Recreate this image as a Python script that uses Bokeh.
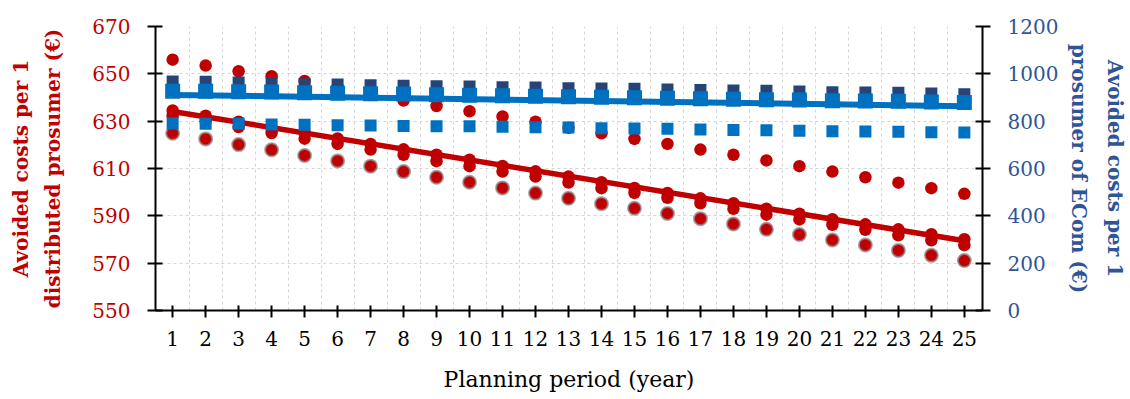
import numpy as np
from bokeh.plotting import figure
from bokeh.models import Range1d, LinearAxis, FixedTicker, ColumnDataSource
from bokeh.embed import file_html
from bokeh.resources import INLINE

# ---------------- data ----------------
years = list(range(1, 26))
year_labels = [str(y) for y in years]

# avoided costs per 1 distributed prosumer (EUR) - left axis
dist_top = [656.0, 653.5, 651.1, 649.0, 647.0, 644.5, 641.5, 638.7, 636.4, 634.2,
            632.0, 629.8, 627.2, 624.9, 622.5, 620.4, 618.0, 615.8, 613.4, 611.0,
            608.7, 606.3, 604.0, 601.7, 599.3]
dist_mid = [634.5, 632.3, 629.8, 627.4, 625.0, 622.7, 620.4, 618.1, 615.8, 613.7,
            611.1, 608.8, 606.6, 604.2, 601.8, 599.7, 597.4, 595.3, 593.0, 590.9,
            588.6, 586.4, 584.3, 582.2, 580.1]
dist_low = [632.2, 630.0, 627.5, 625.0, 622.6, 620.4, 618.0, 615.8, 613.1, 611.0,
            608.7, 606.6, 604.1, 601.7, 599.7, 597.6, 595.3, 593.0, 590.5, 588.5,
            586.2, 584.1, 581.8, 579.7, 577.6]
dist_base = [624.9, 622.5, 620.1, 617.9, 615.5, 613.2, 611.0, 608.7, 606.3, 604.2,
             601.8, 599.6, 597.4, 595.1, 593.2, 591.0, 588.8, 586.6, 584.3, 582.1,
             579.8, 577.7, 575.4, 573.3, 571.1]

# avoided costs per 1 prosumer of ECom (EUR) - right axis
ecom_top = [967.5, 966.2, 963.2, 960.3, 956.1, 954.8, 951.8, 949.3, 947.6, 946.3,
            943.4, 942.1, 939.2, 937.9, 936.6, 933.7, 931.5, 929.4, 928.2, 925.2,
            922.3, 921.0, 919.7, 916.8, 913.8]
ecom_mid = [925.9, 925.9, 924.5, 923.1, 920.3, 917.5, 916.0, 914.6, 911.8, 909.0,
            907.6, 904.8, 903.4, 900.6, 899.2, 896.4, 894.9, 892.1, 890.7, 889.3,
            886.5, 885.1, 883.7, 880.8, 879.4]
ecom_low = [790.0, 788.6, 788.6, 785.8, 784.4, 783.0, 781.5, 780.1, 779.0, 778.0,
            775.9, 774.5, 773.1, 770.3, 768.9, 767.5, 764.6, 762.5, 761.1, 759.0,
            757.6, 756.2, 754.8, 753.4, 752.0]
# linear trend of ECom avoided costs, read at year 1 and year 25
ecom_trend_years = [1, 25]
ecom_trend = [910.8, 863.5]

left_ticks = [550, 570, 590, 610, 630, 650, 670]
right_ticks = [0, 200, 400, 600, 800, 1000, 1200]

# ---------------- figure ----------------
FONT = "DejaVu Serif"
RED = "#C00000"
BLUE = "#0070C0"
NAVY = "#264478"
RTXT = "#2F5597"

p = figure(width=1130, height=399, output_backend="svg", toolbar_location=None,
           x_range=Range1d(0.48, 25.55), y_range=Range1d(550, 670),
           min_border_left=155, min_border_right=148,
           min_border_top=26, min_border_bottom=89)
p.outline_line_color = None
p.background_fill_color = "white"
p.border_fill_color = "white"

p.extra_y_ranges = {"ecom": Range1d(0, 1200)}

# grids
p.xgrid.ticker = FixedTicker(ticks=[y + 0.5 for y in years[:-1]])
p.ygrid.ticker = FixedTicker(ticks=left_ticks)
for g in (p.xgrid, p.ygrid):
    g.grid_line_color = "#d4d4d4"
    g.grid_line_dash = "3 3"
    g.grid_line_width = 1

# data source
src = ColumnDataSource(dict(year=years, dist_top=dist_top, dist_mid=dist_mid,
                            dist_low=dist_low, dist_base=dist_base,
                            ecom_top=ecom_top, ecom_mid=ecom_mid, ecom_low=ecom_low))

# red circles
p.scatter("year", "dist_top", source=src, marker="circle", size=12.5,
          fill_color=RED, line_color=None)
p.scatter("year", "dist_base", source=src, marker="circle", size=13,
          fill_color=RED, line_color="#8a8a8a", line_width=2, line_alpha=0.75)
p.scatter("year", "dist_low", source=src, marker="circle", size=12.5,
          fill_color=RED, line_color=None)
p.scatter("year", "dist_mid", source=src, marker="circle", size=12.5,
          fill_color=RED, line_color=None)

# red linear trend (fitted to dist_mid)
coef = np.polyfit(years, dist_mid, 1)
trend_x = [years[0], years[-1]]
trend_y = [float(np.polyval(coef, x)) for x in trend_x]
p.line(trend_x, trend_y, line_color=RED, line_width=5.5, line_cap="round")

# blue squares
p.scatter("year", "ecom_top", source=src, marker="square", size=12,
          fill_color=NAVY, line_color=None, y_range_name="ecom")
p.scatter("year", "ecom_mid", source=src, marker="square", size=15,
          fill_color=BLUE, line_color=None, y_range_name="ecom")
p.scatter("year", "ecom_low", source=src, marker="square", size=12,
          fill_color=BLUE, line_color=None, y_range_name="ecom")
p.line(ecom_trend_years, ecom_trend, line_color=BLUE, line_width=6,
       y_range_name="ecom", line_cap="round")

# axes
def style_axis(ax, color):
    ax.axis_line_color = "black"
    ax.axis_line_width = 2
    ax.major_tick_line_color = "black"
    ax.major_tick_line_width = 2
    ax.major_tick_in = 7
    ax.major_tick_out = 8
    ax.minor_tick_line_color = None
    ax.major_label_text_font = FONT
    ax.major_label_text_font_size = "20px"
    ax.major_label_text_color = color
    ax.axis_label_text_font = FONT
    ax.axis_label_text_font_style = "bold"
    ax.axis_label_text_font_size = "20px"
    ax.axis_label_text_color = color

xa = p.xaxis[0]
style_axis(xa, "black")
xa.ticker = FixedTicker(ticks=years)
xa.major_label_overrides = {y: lab for y, lab in zip(years, year_labels)}
xa.major_tick_in = 5
xa.major_tick_out = 7
xa.major_label_standoff = 13
xa.axis_label = "Planning period (year)"
xa.axis_label_text_font_style = "normal"
xa.axis_label_text_font_size = "22px"
xa.axis_label_standoff = 18

ya = p.yaxis[0]
style_axis(ya, RED)
ya.ticker = FixedTicker(ticks=left_ticks)
ya.major_label_standoff = 17
ya.axis_label = "Avoided costs per 1\ndistributed prosumer (€)"
ya.axis_label_text_line_height = 1.35
ya.axis_label_standoff = 24

ra = LinearAxis(y_range_name="ecom", ticker=FixedTicker(ticks=right_ticks))
style_axis(ra, RTXT)
ra.major_label_standoff = 17
ra.axis_label = "Avoided costs per 1\nprosumer of ECom (€)"
ra.axis_label_text_line_height = 1.5
ra.axis_label_standoff = 6
p.add_layout(ra, "right")

open("out.html", "w").write(file_html(p, INLINE))
